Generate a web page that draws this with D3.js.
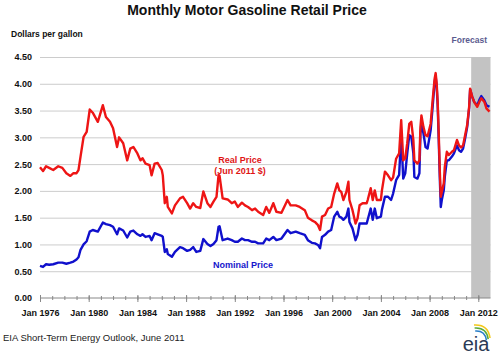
<!DOCTYPE html>
<html><head><meta charset="utf-8">
<script src="https://cdn.jsdelivr.net/npm/d3@7"></script>
<style>
html,body{margin:0;padding:0;background:#fff;}
text{font-family:"Liberation Sans",Arial,sans-serif;}
</style></head>
<body><svg id="c" width="500" height="355"></svg>
<script>
const dates = ["1976-01","1976-04","1976-07","1976-10","1977-02","1977-07","1977-11","1978-03","1978-07","1978-10",
"1979-01","1979-03","1979-05","1979-08","1979-11","1980-02","1980-05","1980-10","1981-03","1981-06",
"1981-10","1982-01","1982-05","1982-07","1982-11","1983-03","1983-06","1983-09","1984-01","1984-04",
"1984-06","1984-09","1985-01","1985-03","1985-06","1985-09","1986-01","1986-02","1986-04","1986-06",
"1986-07","1986-11","1987-02","1987-07","1987-10","1988-02","1988-05","1988-08","1988-11","1989-03",
"1989-06","1989-10","1990-01","1990-04","1990-07","1990-09","1990-10","1991-01","1991-06","1991-10",
"1992-01","1992-04","1992-08","1992-11","1993-02","1993-06","1993-09","1993-12","1994-05","1994-08",
"1994-11","1995-03","1995-06","1995-11","1996-05","1996-08","1997-01","1997-05","1997-10","1998-01",
"1998-05","1998-08","1998-11","1999-01","1999-03","1999-06","1999-09","1999-12","2000-03","2000-06",
"2000-08","2000-10","2000-12","2001-03","2001-05","2001-06","2001-09","2001-12","2002-02","2002-04",
"2002-07","2002-11","2002-12","2003-03","2003-05","2003-07","2003-09","2004-01","2004-02","2004-05",
"2004-08","2004-11","2005-01","2005-04","2005-07","2005-09","2005-11","2006-01","2006-03","2006-05",
"2006-07","2006-09","2006-10","2007-01","2007-03","2007-04","2007-05","2007-07","2007-09","2007-11",
"2008-02","2008-04","2008-06","2008-07","2008-08","2008-09","2008-10","2008-11","2008-12","2009-01",
"2009-03","2009-04","2009-06","2009-08","2009-11","2010-01","2010-04","2010-06","2010-08","2010-10",
"2010-12","2011-02","2011-04","2011-05","2011-07","2011-09","2011-12","2012-02","2012-04","2012-07",
"2012-09","2012-12"];
const nominal = [0.60,0.58,0.63,0.62,0.63,0.66,0.66,0.64,0.66,0.68,
0.72,0.76,0.90,1.00,1.06,1.24,1.27,1.24,1.41,1.38,
1.36,1.33,1.19,1.30,1.26,1.13,1.24,1.26,1.19,1.16,
1.19,1.14,1.16,1.08,1.21,1.19,1.16,1.14,0.86,0.91,
0.82,0.77,0.86,0.95,0.93,0.88,0.90,0.95,0.86,0.88,
1.10,1.01,0.97,1.01,1.08,1.33,1.34,1.08,1.11,1.08,
1.05,1.05,1.11,1.08,1.08,1.05,1.05,1.02,1.02,1.11,
1.08,1.14,1.08,1.11,1.27,1.21,1.24,1.21,1.18,1.08,
1.03,1.02,0.99,0.93,1.14,1.18,1.24,1.27,1.52,1.61,
1.52,1.50,1.46,1.52,1.67,1.42,1.30,1.08,1.18,1.39,
1.39,1.39,1.46,1.67,1.46,1.67,1.49,1.52,1.65,1.89,
1.89,1.83,1.95,2.20,2.30,3.05,2.23,2.33,2.70,3.04,
3.01,2.70,2.26,2.23,2.33,3.07,3.25,3.07,2.82,2.79,
3.13,3.57,4.04,4.14,3.94,3.57,2.95,2.26,1.70,1.83,
2.01,2.26,2.57,2.57,2.64,2.70,2.85,2.76,2.73,2.79,
2.98,3.19,3.54,3.89,3.76,3.66,3.60,3.70,3.77,3.69,
3.60,3.57];
const real = [2.44,2.37,2.46,2.43,2.39,2.46,2.43,2.33,2.28,2.33,
2.33,2.39,2.64,3.01,3.10,3.52,3.46,3.29,3.60,3.38,
3.29,3.17,2.82,3.00,2.89,2.57,2.79,2.82,2.70,2.57,
2.61,2.51,2.48,2.29,2.51,2.52,2.39,2.29,1.77,1.89,
1.70,1.58,1.73,1.86,1.89,1.77,1.67,1.77,1.70,1.68,
1.99,1.77,1.70,1.80,1.89,2.30,2.28,1.86,1.84,1.77,
1.80,1.70,1.78,1.73,1.70,1.64,1.67,1.61,1.55,1.70,
1.59,1.77,1.61,1.59,1.83,1.73,1.73,1.70,1.64,1.50,
1.45,1.42,1.36,1.27,1.52,1.55,1.67,1.70,1.95,2.14,
2.01,1.98,1.83,1.98,2.17,1.83,1.64,1.39,1.49,1.73,
1.77,1.77,1.83,2.05,1.83,2.01,1.83,1.83,2.01,2.36,
2.29,2.20,2.25,2.60,2.70,3.32,2.57,2.61,2.89,3.25,
3.29,2.95,2.57,2.51,2.57,3.19,3.41,3.19,3.04,3.02,
3.25,3.69,4.10,4.20,4.00,3.63,3.07,2.39,1.89,1.98,
2.14,2.45,2.73,2.67,2.73,2.76,2.95,2.85,2.81,2.85,
3.04,3.23,3.57,3.91,3.76,3.66,3.57,3.66,3.73,3.66,
3.54,3.48];
const yTicks = [0,0.5,1,1.5,2,2.5,3,3.5,4,4.5];
const xLabelYears = [1976,1980,1984,1988,1992,1996,2000,2004,2008,2012];
const forecastStart = "2011-06";

const parse = d3.timeParse("%Y-%m");
const svg = d3.select("#c");
const x = d3.scaleTime().domain([new Date(1976,0,1), new Date(2013,0,1)]).range([40, 490.5]);
const y = d3.scaleLinear().domain([0,4.5]).range([298, 57]);

// gridlines
const yAxis = d3.axisLeft(y).tickValues(yTicks).tickFormat(d3.format(".2f"))
  .tickSize(-(490.5-40)).tickPadding(8);
const gy = svg.append("g").attr("transform","translate(40,0)").call(yAxis);
gy.select(".domain").remove();
gy.selectAll(".tick line").attr("stroke","#cccccc").attr("stroke-width",1)
  .filter(d=>d===0).remove();
gy.selectAll(".tick text").attr("font-size","9px").attr("font-weight","bold").attr("fill","#111")
  .attr("font-family","Liberation Sans, Arial, sans-serif");

// forecast band
svg.append("rect").attr("x", x(parse(forecastStart))).attr("y", y(4.5))
  .attr("width", x.range()[1]-x(parse(forecastStart))).attr("height", y(0)-y(4.5))
  .attr("fill","#c3c3c3");

// x axis
const years = d3.range(1976, 2013).map(v=>new Date(v,0,1));
const gMinor = svg.append("g").attr("transform","translate(0,298)")
  .call(d3.axisBottom(x).tickValues(years).tickFormat("").tickSize(2));
gMinor.selectAll(".tick line").attr("y1",-2).attr("stroke","#888");
gMinor.select(".domain").remove();
const gx = svg.append("g").attr("transform","translate(0,298)")
  .call(d3.axisBottom(x).tickValues(xLabelYears.map(v=>new Date(v,0,1)))
    .tickFormat(d3.timeFormat("%b %Y")).tickSize(4).tickPadding(8));
gx.select(".domain").attr("stroke","#888").attr("d","M40,0H490.5");
gx.selectAll(".tick line").attr("y1",-3).attr("stroke","#888");
gx.selectAll(".tick text").attr("font-size","9px").attr("font-weight","bold").attr("fill","#111")
  .attr("font-family","Liberation Sans, Arial, sans-serif");

// lines
const nomData = dates.map((d,i)=>({t:parse(d), v:nominal[i]}));
const realData = dates.map((d,i)=>({t:parse(d), v:real[i]}));
const line = d3.line().x(d=>x(d.t)).y(d=>y(d.v));
svg.append("path").datum(nomData).attr("d",line).attr("fill","none")
  .attr("stroke","#1010cc").attr("stroke-width",2.4).attr("stroke-linejoin","round");
svg.append("path").datum(realData).attr("d",line).attr("fill","none")
  .attr("stroke","#ee1515").attr("stroke-width",2.4).attr("stroke-linejoin","round");

// texts
svg.append("text").attr("x",247).attr("y",15).attr("text-anchor","middle")
  .attr("font-size","14px").attr("font-weight","bold").attr("fill","#111")
  .text("Monthly Motor Gasoline Retail Price");
svg.append("text").attr("x",11).attr("y",37).attr("font-size","8.5px").attr("font-weight","bold")
  .attr("fill","#111").text("Dollars per gallon");
svg.append("text").attr("x",487).attr("y",43).attr("text-anchor","end").attr("font-size","8.5px")
  .attr("font-weight","bold").attr("fill","#5b5b8f").text("Forecast");
svg.append("text").attr("x",240).attr("y",163).attr("text-anchor","middle").attr("font-size","9px")
  .attr("font-weight","bold").attr("fill","#e01515").text("Real Price");
svg.append("text").attr("x",240).attr("y",174).attr("text-anchor","middle").attr("font-size","9px")
  .attr("font-weight","bold").attr("fill","#e01515").text("(Jun 2011 $)");
svg.append("text").attr("x",243).attr("y",268).attr("text-anchor","middle").attr("font-size","9px")
  .attr("font-weight","bold").attr("fill","#1515cc").text("Nominal Price");
svg.append("text").attr("x",3).attr("y",341).attr("font-size","9.5px").attr("fill","#222")
  .text("EIA Short-Term Energy Outlook, June 2011");

// eia logo
const logo = svg.append("g");
const arcs = [{c:"#f2c81a",r:20},{c:"#5aaa3a",r:17},{c:"#2a7fc8",r:14}];
arcs.forEach(a=>{
  logo.append("path").attr("d",`M${478-a.r*0.2},${345-a.r} Q${478+a.r*0.5},${345-a.r*1.05} ${478+a.r*0.6},${345-a.r*0.35}`)
    .attr("fill","none").attr("stroke",a.c).attr("stroke-width",1.6);
});
logo.append("text").attr("x",476).attr("y",351).attr("text-anchor","middle")
  .attr("font-family","Liberation Serif, DejaVu Serif, serif").attr("font-size","20px")
  .attr("fill","#2b3a55").text("eia");
</script></body></html>
